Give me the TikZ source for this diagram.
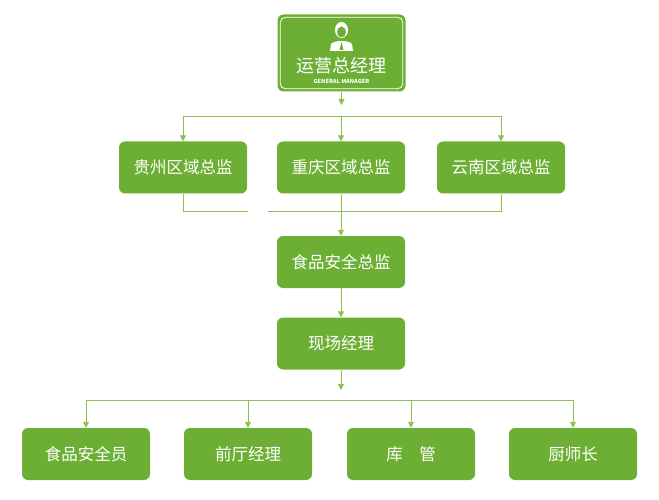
\documentclass[tikz,border=0pt]{standalone}
\usepackage{fontspec}
\setmainfont{Noto Sans CJK SC}
\usetikzlibrary{arrows.meta}
\definecolor{gbox}{HTML}{6DAF35}
\definecolor{gline}{HTML}{8CC152}
\begin{document}
\begin{tikzpicture}[x=1pt,y=-1pt,
 box/.style={fill=gbox,rounded corners=6pt,minimum width=128pt,minimum height=52pt,text=white,font=\fontsize{16.5}{18}\selectfont,inner sep=0pt},
 ln/.style={draw=gline,line width=0.9pt},
 ar/.style={ln,-{Triangle[length=6pt,width=6pt]}}]
\useasboundingbox (0,0) rectangle (659,500);
\node[box,minimum height=77pt,minimum width=128pt] (gm) at (341.5,53) {};
\draw[white,line width=0.8pt,rounded corners=5pt] ([shift={(3,3)}]gm.north west) rectangle ([shift={(-3,-3)}]gm.south east);
\node[text=white,font=\fontsize{18}{20}\selectfont] (gmt) at (341.5,66) {运营总经理};
\node[text=white,font=\fontsize{5.6}{6}\selectfont\bfseries] (gms) at (341.5,81) {GENERAL MANAGER};
% icon
\fill[white] (341.5,30) ellipse (6.5pt and 8pt);
\fill[gbox] (341.5,32) ellipse (4.5pt and 5.5pt);
\fill[white] (330,51) -- (331,44) .. controls (334,40) and (349,40) .. (352,44) -- (353,51) -- cycle;
\fill[gbox] (341.5,42) -- (339.5,50) -- (343.5,50) -- cycle;
\node[box] (gz) at (183,167.5) {贵州区域总监};
\node[box] (cq) at (341,167.5) {重庆区域总监};
\node[box] (yn) at (501,167.5) {云南区域总监};
\node[box] (fs) at (341,262) {食品安全总监};
\node[box] (xc) at (341,343.5) {现场经理};
\node[box] (b1) at (86,454) {食品安全员};
\node[box] (b2) at (248,454) {前厅经理};
\node[box] (b3) at (411,454) {库\quad 管};
\node[box] (b4) at (573,454) {厨师长};
\coordinate (t1) at (341.5,105);
\draw[ar] (gm.south) -- (t1);
\draw[ln] (gz.north |- 0,116) -- (yn.north |- 0,116);
\draw[ar] (gz.north |- 0,116) -- (gz.north);
\draw[ar] (cq.north |- 0,116) -- (cq.north);
\draw[ar] (yn.north |- 0,116) -- (yn.north);
\draw[ln] (gz.south) -- (gz.south |- 0,211) -- (248,211);
\draw[ln] (268,211) -- (yn.south |- 0,211) -- (yn.south);
\draw[ar] (cq.south) -- (fs.north);
\draw[ar] (fs.south) -- (xc.north);
\coordinate (t2) at (341,390);
\draw[ar] (xc.south) -- (t2);
\draw[ln] (b1.north |- 0,400) -- (b4.north |- 0,400);
\foreach \b in {b1,b2,b3,b4} \draw[ar] (\b.north |- 0,400) -- (\b.north);
\end{tikzpicture}
\end{document}
